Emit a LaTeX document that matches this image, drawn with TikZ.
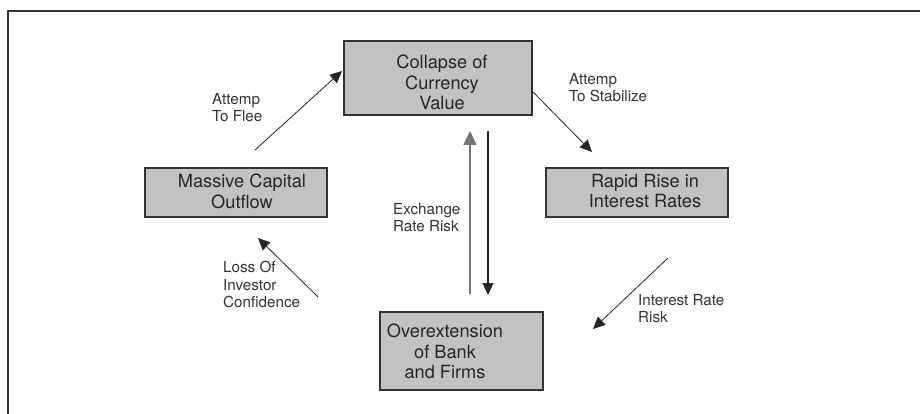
\documentclass[tikz,border=0pt]{standalone}
\usepackage{fontspec}
\setmainfont{TeX Gyre Heros}
\usetikzlibrary{arrows.meta}
\definecolor{boxgray}{HTML}{C2C2C4}
\definecolor{edgegray}{HTML}{333333}
\begin{document}
\begin{tikzpicture}[x=1pt,y=-1pt,
  box/.style={draw=edgegray,line width=1.6pt,fill=boxgray},
  boxtext/.style={align=center,anchor=north,font=\fontsize{18.2}{20.3}\selectfont,text=black!85,inner sep=0pt},
  lbl/.style={align=left,anchor=north west,font=\fontsize{15.2}{17.6}\selectfont,text=black!80,inner sep=0pt},
  arr/.style={-{Triangle[length=12pt,width=11pt]},line width=0.8pt,draw=black!85},
  garr/.style={-{Triangle[length=14pt,width=13pt]},line width=1.6pt,draw=black!55}]
\useasboundingbox (0,0) rectangle (920,414);
\fill[white] (0,0) rectangle (920,414);
% frame
\draw[line width=1.6pt,draw=black!80] (8,420) -- (8,11) -- (925,11);
% boxes
\draw[box] (344,41) rectangle (532,115);
\node[boxtext] (collapse) at (442,55) {Collapse of\\Currency\\Value};
\draw[box] (145,168) rectangle (327,217);
\node[boxtext] (massive) at (242,174) {Massive Capital\\Outflow};
\draw[box] (546,168) rectangle (728,217);
\node[boxtext] (rapid) at (645,174) {Rapid Rise in\\Interest Rates};
\draw[box] (380,312) rectangle (543,390);
\node[boxtext] (overext) at (445,324) {Overextension\\of Bank\\and Firms};
% coordinates
\coordinate (upS) at (470,294);
\coordinate (upE) at (470,131);
\coordinate (dnS) at (488,131);
\coordinate (dnE) at (488,295);
\coordinate (fleeS) at (255,150);
\coordinate (fleeE) at (342,71);
\coordinate (stabS) at (532,91);
\coordinate (stabE) at (592,152);
\coordinate (irS) at (668,258);
\coordinate (irE) at (593,329);
\coordinate (lossS) at (318,297);
\coordinate (lossE) at (258,238);
% arrows
\draw[garr] (upS) -- (upE);
\draw[arr,line width=1.2pt] (dnS) -- (dnE);
\draw[arr] (fleeS) -- (fleeE);
\draw[arr] (stabS) -- (stabE);
\draw[arr] (irS) -- (irE);
\draw[arr] (lossS) -- (lossE);
% labels
\node[lbl] (l1) at (212,93) {Attemp\\To Flee};
\node[lbl] (l2) at (569,73) {Attemp\\To Stabilize};
\node[lbl] (l3) at (393,203) {Exchange\\Rate Risk};
\node[lbl] (l4) at (638,294) {Interest Rate\\Risk};
\node[lbl] (l5) at (223,261) {Loss Of\\Investor\\Confidence};
\end{tikzpicture}
\end{document}
